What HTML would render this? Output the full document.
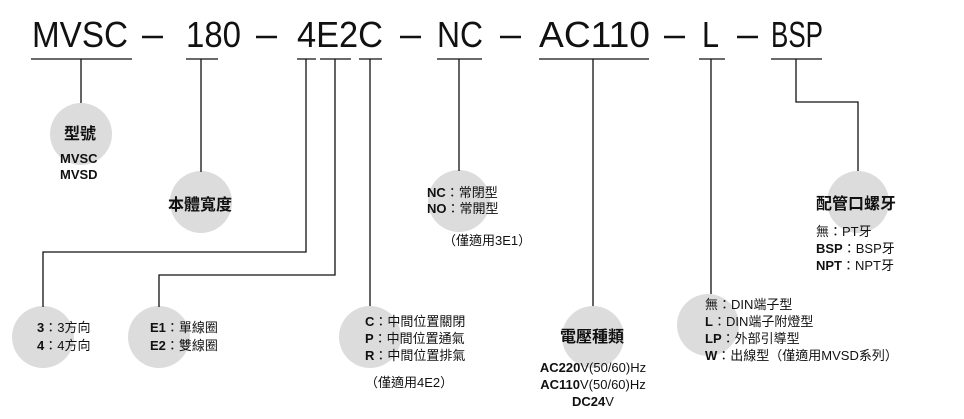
<!DOCTYPE html>
<html><head><meta charset="utf-8"><style>
html,body{margin:0;padding:0;background:#fff;}
svg{display:block;}
text{font-family:"Liberation Sans","Noto Sans CJK TC",sans-serif;fill:#111;}
.h{font-size:36px;}
.b{font-weight:bold;}
.s{font-size:13px;}
</style></head><body>
<svg width="964" height="419" viewBox="0 0 964 419" xmlns="http://www.w3.org/2000/svg">
<g fill="#dcdcdc">
<circle cx="81" cy="134" r="31"/>
<circle cx="201" cy="202" r="31"/>
<circle cx="459" cy="201" r="31"/>
<circle cx="858" cy="202" r="31"/>
<circle cx="43" cy="337" r="31"/>
<circle cx="159" cy="337" r="31"/>
<circle cx="370" cy="337" r="31"/>
<circle cx="593" cy="337" r="31"/>
<circle cx="708" cy="325" r="31"/>
</g>
<g class="h">
<text class="h" x="32" y="47" textLength="96" lengthAdjust="spacingAndGlyphs">MVSC</text>
<text class="h" x="186" y="47" textLength="55" lengthAdjust="spacingAndGlyphs">180</text>
<text class="h" x="297" y="47" textLength="86" lengthAdjust="spacingAndGlyphs">4E2C</text>
<text class="h" x="437" y="47" textLength="46" lengthAdjust="spacingAndGlyphs">NC</text>
<text class="h" x="539" y="47" textLength="111" lengthAdjust="spacingAndGlyphs">AC110</text>
<text class="h" x="702" y="47" textLength="17" lengthAdjust="spacingAndGlyphs">L</text>
<text class="h" x="771" y="47" textLength="52" lengthAdjust="spacingAndGlyphs">BSP</text>
</g>
<g stroke="#111" stroke-width="2.6">
<line x1="142" y1="37" x2="163" y2="37"/>
<line x1="256" y1="37" x2="277" y2="37"/>
<line x1="400" y1="37" x2="421" y2="37"/>
<line x1="500" y1="37" x2="521" y2="37"/>
<line x1="664" y1="37" x2="685" y2="37"/>
<line x1="737" y1="37" x2="758" y2="37"/>
</g>
<g stroke="#111" stroke-width="1.3" fill="none">
<line x1="31" y1="59" x2="132" y2="59"/>
<line x1="186" y1="59" x2="218" y2="59"/>
<line x1="297" y1="59" x2="316" y2="59"/>
<line x1="320" y1="59" x2="351" y2="59"/>
<line x1="359" y1="59" x2="382" y2="59"/>
<line x1="437" y1="59" x2="482" y2="59"/>
<line x1="539" y1="59" x2="649" y2="59"/>
<line x1="699" y1="59" x2="725" y2="59"/>
<line x1="771" y1="59" x2="822" y2="59"/>
<line x1="81" y1="59" x2="81" y2="103"/>
<line x1="201" y1="59" x2="201" y2="172"/>
<polyline points="306,59 306,252 43,252 43,307"/>
<polyline points="335,59 335,275 159,275 159,307"/>
<line x1="370" y1="59" x2="370" y2="306"/>
<line x1="459" y1="59" x2="459" y2="171"/>
<line x1="593" y1="59" x2="593" y2="306"/>
<line x1="711" y1="59" x2="711" y2="294"/>
<polyline points="796,59 796,102 858,102 858,171"/>
</g>
<text x="64" y="139" font-size="16" class="b">型號</text>
<text x="60" y="163" class="s b">MVSC</text>
<text x="60" y="179" class="s b">MVSD</text>
<text x="168" y="210" font-size="16" class="b">本體寬度</text>
<text x="427" y="197" class="s"><tspan class="b">NC</tspan>：常閉型</text>
<text x="427" y="213" class="s"><tspan class="b">NO</tspan>：常開型</text>
<text x="443" y="245" class="s">（僅適用3E1）</text>
<text x="816" y="209" font-size="16" class="b">配管口螺牙</text>
<text x="816" y="236" class="s">無：PT牙</text>
<text x="816" y="253" class="s"><tspan class="b">BSP</tspan>：BSP牙</text>
<text x="816" y="270" class="s"><tspan class="b">NPT</tspan>：NPT牙</text>
<text x="37" y="332" class="s"><tspan class="b">3</tspan>：3方向</text>
<text x="37" y="350" class="s"><tspan class="b">4</tspan>：4方向</text>
<text x="150" y="332" class="s"><tspan class="b">E1</tspan>：單線圈</text>
<text x="150" y="350" class="s"><tspan class="b">E2</tspan>：雙線圈</text>
<text x="365" y="326" class="s"><tspan class="b">C</tspan>：中間位置關閉</text>
<text x="365" y="343" class="s"><tspan class="b">P</tspan>：中間位置通氣</text>
<text x="365" y="360" class="s"><tspan class="b">R</tspan>：中間位置排氣</text>
<text x="365" y="387" class="s">（僅適用4E2）</text>
<text x="560" y="342" font-size="16" class="b">電壓種類</text>
<text x="593" y="372" class="s" text-anchor="middle"><tspan class="b">AC220</tspan>V(50/60)Hz</text>
<text x="593" y="389" class="s" text-anchor="middle"><tspan class="b">AC110</tspan>V(50/60)Hz</text>
<text x="593" y="406" class="s" text-anchor="middle"><tspan class="b">DC24</tspan>V</text>
<text x="705" y="309" class="s">無：DIN端子型</text>
<text x="705" y="326" class="s"><tspan class="b">L</tspan>：DIN端子附燈型</text>
<text x="705" y="343" class="s"><tspan class="b">LP</tspan>：外部引導型</text>
<text x="705" y="360" class="s"><tspan class="b">W</tspan>：出線型（僅適用MVSD系列）</text>
</svg>
</body></html>
